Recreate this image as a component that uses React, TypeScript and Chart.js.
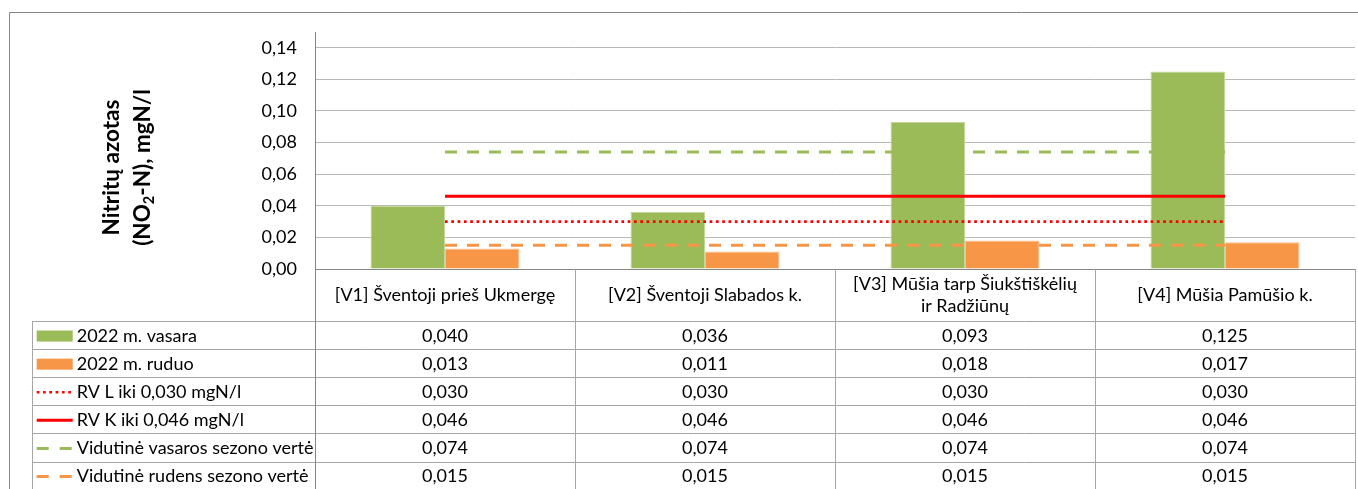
import React, { useEffect, useRef } from "react";
import { Chart, registerables } from "chart.js";

Chart.register(...registerables);

// ---------- data ----------
const categories: string[][] = [
  ["[V1] Šventoji prieš Ukmergę"],
  ["[V2] Šventoji Slabados k."],
  ["[V3] Mūšia tarp Šiukštiškėlių", "ir Radžiūnų"],
  ["[V4] Mūšia Pamūšio k."],
];
const summer2022 = [0.04, 0.036, 0.093, 0.125];
const autumn2022 = [0.013, 0.011, 0.018, 0.017];
const rvL = [0.03, 0.03, 0.03, 0.03];
const rvK = [0.046, 0.046, 0.046, 0.046];
const avgSummer = [0.074, 0.074, 0.074, 0.074];
const avgAutumn = [0.015, 0.015, 0.015, 0.015];
const seriesLabels = [
  "2022 m. vasara",
  "2022 m. ruduo",
  "RV L iki 0,030 mgN/l",
  "RV K iki 0,046 mgN/l",
  "Vidutinė vasaros sezono vertė",
  "Vidutinė rudens sezono vertė",
];
const yTickValues = [0, 0.02, 0.04, 0.06, 0.08, 0.1, 0.12, 0.14];
const yTitleLine1 = "Nitritų azotas";
const yTitleLine2 = ["(NO", "2", "-N), mgN/l"];
const yMin = 0;
const yMax = 0.15;

const GREEN = "#9bbb59";
const ORANGE = "#f79646";
const RED = "#ff0000";
const FONT = "Lato";

const fmt = (v: number, d: number) => v.toFixed(d).replace(".", ",");

export default function App() {
  const ref = useRef<HTMLCanvasElement>(null);

  useEffect(() => {
    const canvas = ref.current;
    if (!canvas) return;

    const allSeries = [summer2022, autumn2022, rvL, rvK, avgSummer, avgAutumn];
    const headerH = 52;
    const rowH = 28.1;

    const tablePlugin = {
      id: "dataTable",
      afterDraw(chart: any) {
        const ctx: CanvasRenderingContext2D = chart.ctx;
        const area = chart.chartArea;
        const xs = chart.scales.x;
        const n = categories.length;
        const colW = (area.right - area.left) / n;
        const legendLeft = 32;
        const H = chart.height;
        const W = chart.width;
        ctx.save();

        // outer border
        ctx.strokeStyle = "#868686";
        ctx.lineWidth = 1;
        ctx.beginPath();
        ctx.moveTo(9.5, H + 2);
        ctx.lineTo(9.5, 12.5);
        ctx.lineTo(W + 2, 12.5);
        ctx.stroke();

        // table lines
        ctx.strokeStyle = "#a6a6a6";
        const top = Math.round(area.bottom);
        const rowTop = top + headerH;
        ctx.beginPath();
        for (let r = 0; r <= allSeries.length; r++) {
          const y = Math.round(rowTop + r * rowH) + 0.5;
          ctx.moveTo(legendLeft, y);
          ctx.lineTo(area.right, y);
        }
        ctx.moveTo(legendLeft + 0.5, rowTop);
        ctx.lineTo(legendLeft + 0.5, H + 2);
        for (let i = 1; i <= n; i++) {
          const x = Math.round(area.left + i * colW) + 0.5;
          ctx.moveTo(x, top);
          ctx.lineTo(x, H + 2);
        }
        ctx.stroke();
        ctx.strokeStyle = "#868686";
        ctx.beginPath();
        ctx.moveTo(Math.round(area.left) + 0.5, top);
        ctx.lineTo(Math.round(area.left) + 0.5, H + 2);
        ctx.stroke();

        // header text
        ctx.fillStyle = "#000";
        ctx.font = `18px ${FONT}`;
        ctx.textAlign = "center";
        ctx.textBaseline = "middle";
        const lh = 22;
        categories.forEach((lines, i) => {
          const cx = xs.getPixelForValue(i);
          const cy = top + headerH / 2;
          lines.forEach((t, k) => {
            ctx.fillText(t, cx, cy + (k - (lines.length - 1) / 2) * lh);
          });
        });

        // data rows
        allSeries.forEach((vals, r) => {
          const cy = rowTop + r * rowH + rowH / 2 + 1;
          vals.forEach((v, i) => {
            ctx.fillText(fmt(v, 3), xs.getPixelForValue(i), cy);
          });
        });

        // legend keys + labels
        ctx.textAlign = "left";
        const kx0 = 36.7;
        const kx1 = 72.7;
        seriesLabels.forEach((lab, r) => {
          const cy = rowTop + r * rowH + rowH / 2 + 1;
          ctx.fillStyle = "#000";
          ctx.fillText(lab, 76.7, cy);
          ctx.save();
          if (r === 0 || r === 1) {
            ctx.fillStyle = r === 0 ? GREEN : ORANGE;
            ctx.fillRect(kx0, cy - 5.5, kx1 - kx0, 11);
          } else {
            ctx.lineWidth = 3;
            ctx.beginPath();
            if (r === 2) {
              ctx.strokeStyle = RED;
              ctx.lineWidth = 2.7;
              ctx.setLineDash([2.7, 3.6]);
            } else if (r === 3) {
              ctx.strokeStyle = RED;
            } else {
              ctx.strokeStyle = r === 4 ? GREEN : ORANGE;
              ctx.setLineDash([12, 11]);
            }
            ctx.moveTo(kx0, cy);
            ctx.lineTo(kx1, cy);
            ctx.stroke();
          }
          ctx.restore();
        });

        // y axis title
        ctx.fillStyle = "#000";
        const big = `bold 22.5px ${FONT}`;
        const small = `bold 14.5px ${FONT}`;
        ctx.font = big;
        ctx.textBaseline = "middle";
        ctx.textAlign = "center";
        const ty = 167.5;
        ctx.save();
        ctx.translate(112, ty);
        ctx.rotate(-Math.PI / 2);
        ctx.fillText(yTitleLine1, 0, 0);
        ctx.restore();

        ctx.save();
        ctx.translate(143, ty);
        ctx.rotate(-Math.PI / 2);
        ctx.textAlign = "left";
        ctx.font = big;
        const w0 = ctx.measureText(yTitleLine2[0]).width;
        const w2 = ctx.measureText(yTitleLine2[2]).width;
        ctx.font = small;
        const w1 = ctx.measureText(yTitleLine2[1]).width;
        let x = -(w0 + w1 + w2) / 2;
        ctx.font = big;
        ctx.fillText(yTitleLine2[0], x, 0);
        x += w0;
        ctx.font = small;
        ctx.fillText(yTitleLine2[1], x, 6);
        x += w1;
        ctx.font = big;
        ctx.fillText(yTitleLine2[2], x, 0);
        ctx.restore();

        ctx.restore();
      },
    };

    const lineDs = (label: string, data: number[], color: string, dash: number[], width: number) => ({
      type: "line" as const,
      label,
      data,
      borderColor: color,
      backgroundColor: color,
      borderWidth: width,
      borderDash: dash,
      borderCapStyle: "butt" as const,
      pointRadius: 0,
      pointHoverRadius: 0,
      fill: false,
      tension: 0,
      order: 0,
    });

    const chart = new Chart(canvas, {
      type: "bar",
      data: {
        labels: categories.map((c) => c.join(" ")),
        datasets: [
          {
            type: "bar",
            label: seriesLabels[0],
            data: summer2022,
            backgroundColor: GREEN,
            borderColor: "#c3d69b",
            borderWidth: 1,
            order: 1,
          },
          {
            type: "bar",
            label: seriesLabels[1],
            data: autumn2022,
            backgroundColor: ORANGE,
            borderColor: "#fac090",
            borderWidth: 1,
            order: 1,
          },
          lineDs(seriesLabels[2], rvL, RED, [2.7, 3.6], 2.7),
          lineDs(seriesLabels[3], rvK, RED, [], 3),
          lineDs(seriesLabels[4], avgSummer, GREEN, [12, 10], 3),
          lineDs(seriesLabels[5], avgAutumn, ORANGE, [12, 10], 3),
        ] as any,
      },
      options: {
        responsive: false,
        animation: false,
        devicePixelRatio: 1,
        layout: { padding: { top: 32, right: 3, left: 0, bottom: 0 } },
        datasets: {
          bar: { categoryPercentage: 0.573, barPercentage: 1 },
        },
        plugins: {
          legend: { display: false },
          tooltip: { enabled: false },
          title: { display: false },
        },
        scales: {
          x: {
            grid: { display: false, drawTicks: false },
            border: { display: true, color: "#868686", width: 1 },
            ticks: { display: false },
            afterFit: (s: any) => {
              s.height = 220;
            },
          },
          y: {
            min: yMin,
            max: yMax,
            grid: { color: "#b8b8b8", lineWidth: 1, drawTicks: false },
            border: { display: true, color: "#868686", width: 1 },
            ticks: {
              padding: 18,
              color: "#000",
              font: { family: FONT, size: 18 },
              callback: (v: any) => fmt(Number(v), 2),
            },
            afterBuildTicks: (s: any) => {
              s.ticks = yTickValues.map((value) => ({ value }));
            },
            afterFit: (s: any) => {
              s.width = 315;
            },
          },
        },
      },
      plugins: [tablePlugin],
    });

    return () => chart.destroy();
  }, []);

  return (
    <div style={{ position: "absolute", left: 0, top: 0, width: 1358, height: 489, background: "#fff" }}>
      <canvas ref={ref} width={1358} height={489} style={{ display: "block", width: 1358, height: 489 }} />
    </div>
  );
}
